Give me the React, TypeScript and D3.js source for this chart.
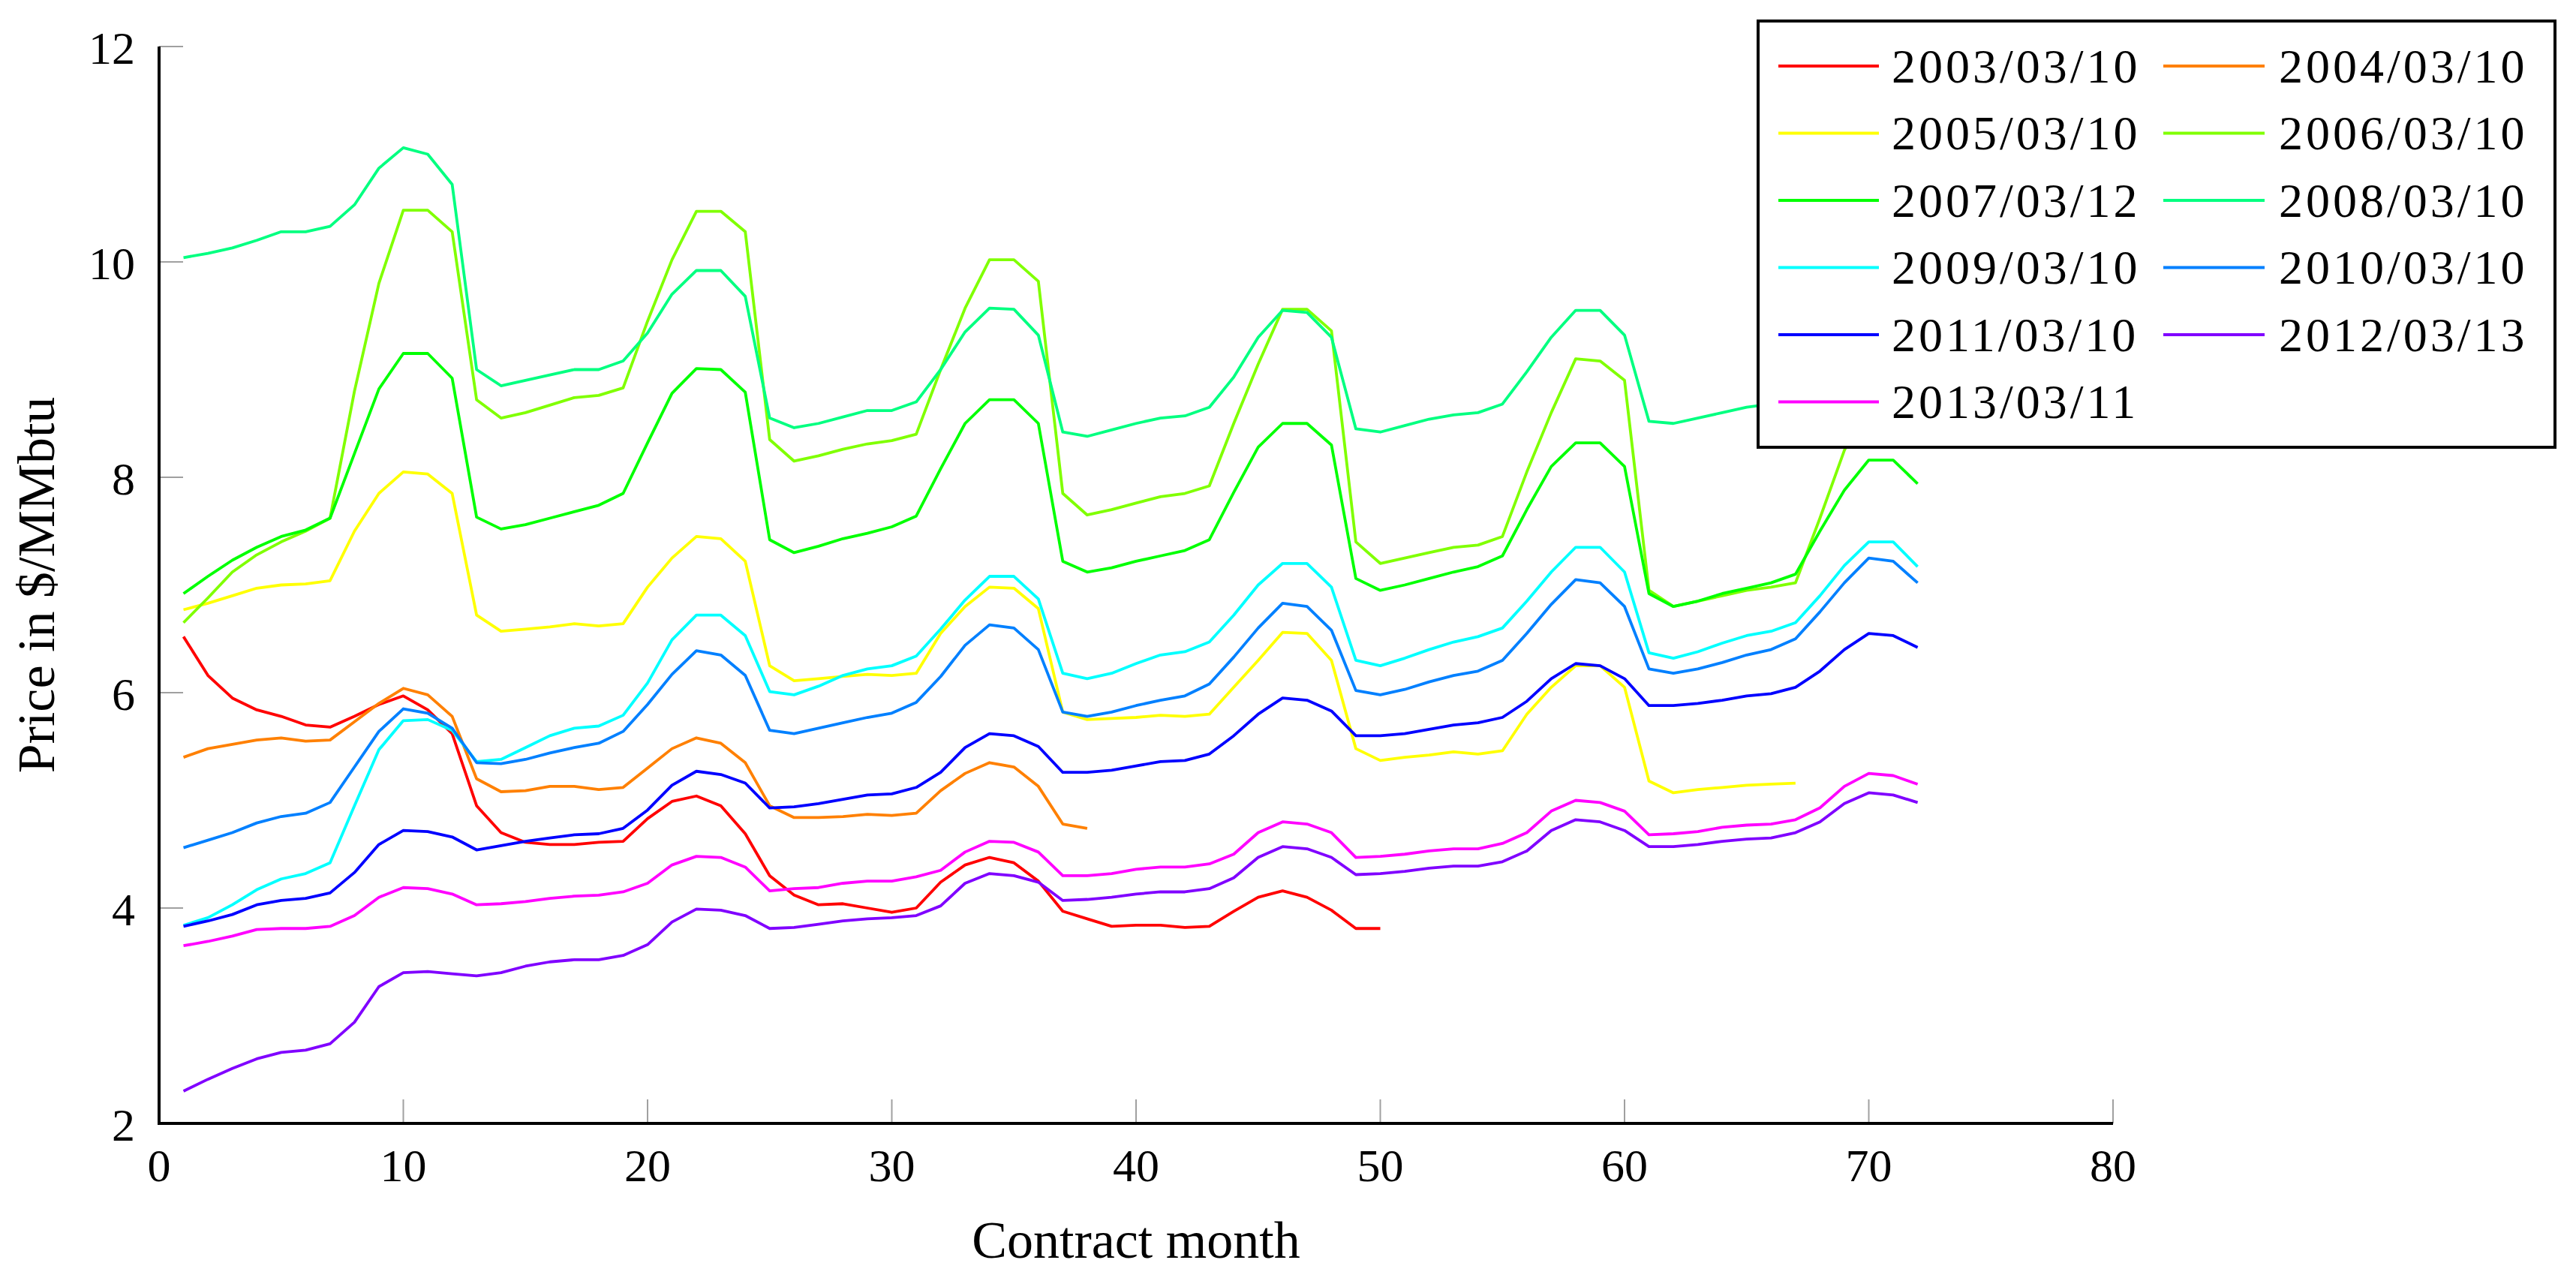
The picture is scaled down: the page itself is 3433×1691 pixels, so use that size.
import * as d3 from "d3";

// futures curves, price in $/MMbtu by contract month (1 = first listed month)
const p2003 = [6.52, 6.16, 5.95, 5.84, 5.78, 5.7, 5.68, 5.78, 5.89, 5.97, 5.84, 5.62, 4.95, 4.7, 4.61, 4.59, 4.59, 4.61, 4.62, 4.83, 4.99, 5.04, 4.95, 4.69, 4.3, 4.12, 4.03, 4.04, 4.0, 3.96, 4.0, 4.24, 4.4, 4.47, 4.42, 4.25, 3.97, 3.9, 3.83, 3.84, 3.84, 3.82, 3.83, 3.97, 4.1, 4.16, 4.1, 3.98, 3.81, 3.81];
const p2004 = [5.4, 5.48, 5.52, 5.56, 5.58, 5.55, 5.56, 5.73, 5.9, 6.04, 5.98, 5.78, 5.2, 5.08, 5.09, 5.13, 5.13, 5.1, 5.12, 5.3, 5.48, 5.58, 5.53, 5.35, 4.95, 4.84, 4.84, 4.85, 4.87, 4.86, 4.88, 5.09, 5.25, 5.35, 5.31, 5.13, 4.78, 4.74];
const p2005 = [6.77, 6.83, 6.9, 6.97, 7.0, 7.01, 7.04, 7.5, 7.85, 8.05, 8.03, 7.85, 6.72, 6.57, 6.59, 6.61, 6.64, 6.62, 6.64, 6.98, 7.25, 7.45, 7.43, 7.22, 6.25, 6.11, 6.13, 6.15, 6.17, 6.16, 6.18, 6.55, 6.8, 6.98, 6.97, 6.78, 5.82, 5.75, 5.76, 5.77, 5.79, 5.78, 5.8, 6.05, 6.3, 6.56, 6.55, 6.3, 5.48, 5.37, 5.4, 5.42, 5.45, 5.43, 5.46, 5.8, 6.05, 6.25, 6.25, 6.05, 5.18, 5.07, 5.1, 5.12, 5.14, 5.15, 5.16];
const p2006 = [6.65, 6.88, 7.12, 7.28, 7.4, 7.5, 7.62, 8.8, 9.8, 10.48, 10.48, 10.28, 8.72, 8.55, 8.6, 8.67, 8.74, 8.76, 8.83, 9.45, 10.02, 10.47, 10.47, 10.28, 8.35, 8.15, 8.2, 8.26, 8.31, 8.34, 8.4, 9.0, 9.57, 10.02, 10.02, 9.82, 7.85, 7.65, 7.7, 7.76, 7.82, 7.85, 7.92, 8.5, 9.05, 9.56, 9.56, 9.36, 7.4, 7.2, 7.25, 7.3, 7.35, 7.37, 7.45, 8.05, 8.6, 9.1, 9.08, 8.9, 6.95, 6.8, 6.85, 6.9, 6.95, 6.98, 7.02, 7.62, 8.25, 8.7, 8.7, 8.5];
const p2007 = [6.92, 7.08, 7.23, 7.35, 7.45, 7.51, 7.62, 8.22, 8.82, 9.15, 9.15, 8.92, 7.63, 7.52, 7.56, 7.62, 7.68, 7.74, 7.85, 8.32, 8.78, 9.01, 9.0, 8.79, 7.42, 7.3, 7.36, 7.43, 7.48, 7.54, 7.64, 8.08, 8.5, 8.72, 8.72, 8.5, 7.22, 7.12, 7.16, 7.22, 7.27, 7.32, 7.42, 7.86, 8.28, 8.5, 8.5, 8.3, 7.06, 6.95, 7.0, 7.06, 7.12, 7.17, 7.27, 7.7, 8.1, 8.32, 8.32, 8.1, 6.92, 6.8, 6.85, 6.92, 6.97, 7.02, 7.1, 7.5, 7.88, 8.16, 8.16, 7.94];
const p2008 = [10.04, 10.08, 10.13, 10.2, 10.28, 10.28, 10.33, 10.53, 10.87, 11.06, 11.0, 10.72, 9.0, 8.85, 8.9, 8.95, 9.0, 9.0, 9.08, 9.34, 9.7, 9.92, 9.92, 9.68, 8.55, 8.46, 8.5, 8.56, 8.62, 8.62, 8.7, 9.0, 9.35, 9.57, 9.56, 9.32, 8.42, 8.38, 8.44, 8.5, 8.55, 8.57, 8.65, 8.93, 9.3, 9.55, 9.53, 9.3, 8.45, 8.42, 8.48, 8.54, 8.58, 8.6, 8.68, 8.98, 9.3, 9.55, 9.55, 9.32, 8.52, 8.5, 8.55, 8.6, 8.65, 8.68, 8.72, 9.02, 9.32, 9.56, 9.56, 9.34];
const p2009 = [3.84, 3.91, 4.03, 4.17, 4.27, 4.32, 4.42, 4.95, 5.47, 5.74, 5.75, 5.65, 5.36, 5.38, 5.49, 5.6, 5.67, 5.69, 5.79, 6.09, 6.49, 6.72, 6.72, 6.53, 6.01, 5.98, 6.06, 6.16, 6.22, 6.25, 6.34, 6.59, 6.86, 7.08, 7.08, 6.87, 6.18, 6.13, 6.18, 6.27, 6.35, 6.38, 6.47, 6.72, 7.0, 7.2, 7.2, 6.98, 6.3, 6.25, 6.32, 6.4, 6.47, 6.52, 6.6, 6.85, 7.12, 7.35, 7.35, 7.12, 6.37, 6.32, 6.38, 6.46, 6.53, 6.57, 6.65, 6.9, 7.18, 7.4, 7.4, 7.17];
const p2010 = [4.56, 4.63, 4.7, 4.79, 4.85, 4.88, 4.98, 5.31, 5.64, 5.85, 5.81, 5.67, 5.35, 5.34, 5.38, 5.44, 5.49, 5.53, 5.64, 5.89, 6.17, 6.39, 6.35, 6.16, 5.65, 5.62, 5.67, 5.72, 5.77, 5.81, 5.91, 6.15, 6.44, 6.63, 6.6, 6.4, 5.82, 5.78, 5.82, 5.88, 5.93, 5.97, 6.08, 6.33, 6.6, 6.83, 6.8, 6.58, 6.02, 5.98, 6.03, 6.1, 6.16, 6.2, 6.3, 6.55, 6.82, 7.05, 7.02, 6.8, 6.22, 6.18, 6.22, 6.28, 6.35, 6.4, 6.5, 6.75, 7.02, 7.25, 7.22, 7.02];
const p2011 = [3.83, 3.88, 3.94, 4.03, 4.07, 4.09, 4.14, 4.33, 4.59, 4.72, 4.71, 4.66, 4.54, 4.58, 4.62, 4.65, 4.68, 4.69, 4.74, 4.91, 5.14, 5.27, 5.24, 5.16, 4.93, 4.94, 4.97, 5.01, 5.05, 5.06, 5.12, 5.26, 5.49, 5.62, 5.6, 5.5, 5.26, 5.26, 5.28, 5.32, 5.36, 5.37, 5.43, 5.6, 5.8, 5.95, 5.93, 5.83, 5.6, 5.6, 5.62, 5.66, 5.7, 5.72, 5.77, 5.92, 6.13, 6.27, 6.25, 6.13, 5.88, 5.88, 5.9, 5.93, 5.97, 5.99, 6.05, 6.2, 6.4, 6.55, 6.53, 6.42];
const p2012 = [2.3, 2.41, 2.51, 2.6, 2.66, 2.68, 2.74, 2.94, 3.27, 3.4, 3.41, 3.39, 3.37, 3.4, 3.46, 3.5, 3.52, 3.52, 3.56, 3.66, 3.87, 3.99, 3.98, 3.93, 3.81, 3.82, 3.85, 3.88, 3.9, 3.91, 3.93, 4.02, 4.23, 4.32, 4.3, 4.24, 4.07, 4.08, 4.1, 4.13, 4.15, 4.15, 4.18, 4.28, 4.47, 4.57, 4.55, 4.47, 4.31, 4.32, 4.34, 4.37, 4.39, 4.39, 4.43, 4.53, 4.72, 4.82, 4.8, 4.72, 4.57, 4.57, 4.59, 4.62, 4.64, 4.65, 4.7, 4.8, 4.97, 5.07, 5.05, 4.98];
const p2013 = [3.65, 3.69, 3.74, 3.8, 3.81, 3.81, 3.83, 3.93, 4.1, 4.19, 4.18, 4.13, 4.03, 4.04, 4.06, 4.09, 4.11, 4.12, 4.15, 4.23, 4.4, 4.48, 4.47, 4.38, 4.16, 4.18, 4.19, 4.23, 4.25, 4.25, 4.29, 4.35, 4.52, 4.62, 4.61, 4.52, 4.3, 4.3, 4.32, 4.36, 4.38, 4.38, 4.41, 4.5, 4.7, 4.8, 4.78, 4.7, 4.47, 4.48, 4.5, 4.53, 4.55, 4.55, 4.6, 4.7, 4.9, 5.0, 4.98, 4.9, 4.68, 4.69, 4.71, 4.75, 4.77, 4.78, 4.82, 4.93, 5.13, 5.25, 5.23, 5.15];

const curveDates = ["2003/03/10", "2004/03/10", "2005/03/10", "2006/03/10", "2007/03/12", "2008/03/10", "2009/03/10", "2010/03/10", "2011/03/10", "2012/03/13", "2013/03/11"];
const curveColors = ["#ff0000", "#ff8000", "#ffff00", "#80ff00", "#00ff00", "#00ff80", "#00ffff", "#0080ff", "#0000ff", "#8000ff", "#ff00ff"];
const curves = [p2003, p2004, p2005, p2006, p2007, p2008, p2009, p2010, p2011, p2012, p2013];

const xTicks = [0, 10, 20, 30, 40, 50, 60, 70, 80];
const yTicks = [2, 4, 6, 8, 10, 12];

const W = 3433;
const H = 1691;
const FONT = "'Liberation Serif', 'DejaVu Serif', serif";

export default function App() {
  const x = d3.scaleLinear().domain([0, 80]).range([212, 2816]);
  const y = d3.scaleLinear().domain([2, 12]).range([1497, 62]);

  const line = d3
    .line<number>()
    .x((_d, i) => x(i + 1))
    .y((d) => y(d));

  // legend box, two columns
  const lg = { x: 2343, y: 28, w: 1062, h: 568, row0: 88, rowH: 89.5 };
  const cols = [
    { l0: 2370, l1: 2504, t: 2521 },
    { l0: 2883, l1: 3018, t: 3037 },
  ];

  return (
    <div style={{ position: "absolute", left: 0, top: 0, background: "#fff" }}>
      <svg width={W} height={H} viewBox={`0 0 ${W} ${H}`} fontFamily={FONT}>
        <rect width={W} height={H} fill="#fff" />

        {/* ticks (inward, gray) */}
        {xTicks.map((t) => (
          <line key={"xt" + t} x1={x(t)} x2={x(t)} y1={y(2)} y2={y(2) - 32} stroke="#a0a0a0" strokeWidth={2} />
        ))}
        {yTicks.map((t) => (
          <line key={"yt" + t} x1={x(0)} x2={x(0) + 32} y1={y(t)} y2={y(t)} stroke="#a0a0a0" strokeWidth={2} />
        ))}

        {curves.map((c, i) => (
          <path key={curveDates[i]} d={line(c) ?? ""} fill="none" stroke={curveColors[i]} strokeWidth={3.8} strokeLinejoin="round" />
        ))}

        {/* axis lines */}
        <line x1={x(0)} x2={x(0)} y1={y(12)} y2={y(2) + 2} stroke="#000" strokeWidth={4} />
        <line x1={x(0) - 2} x2={x(80)} y1={y(2)} y2={y(2)} stroke="#000" strokeWidth={4} />

        {xTicks.map((t) => (
          <text key={"xl" + t} x={x(t)} y={1553} fontSize={62} textAnchor="middle" dominantBaseline="central">
            {t}
          </text>
        ))}
        {yTicks.map((t) => (
          <text key={"yl" + t} x={180} y={y(t) + 2} fontSize={62} textAnchor="end" dominantBaseline="central">
            {t}
          </text>
        ))}

        <text x={1514} y={1652} fontSize={70} textAnchor="middle" dominantBaseline="central">
          Contract month
        </text>
        <text
          transform={`translate(48, ${(y(2) + y(12)) / 2}) rotate(-90)`}
          fontSize={70}
          textAnchor="middle"
          dominantBaseline="central"
        >
          Price in $/MMbtu
        </text>

        <g>
          <rect x={lg.x} y={lg.y} width={lg.w} height={lg.h} fill="#fff" stroke="#000" strokeWidth={4} />
          {curveDates.map((d, i) => {
            const c = cols[i % 2];
            const cy = lg.row0 + Math.floor(i / 2) * lg.rowH;
            return (
              <g key={"lg" + d}>
                <line x1={c.l0} x2={c.l1} y1={cy} y2={cy} stroke={curveColors[i]} strokeWidth={3.8} />
                <text x={c.t} y={cy} fontSize={64} letterSpacing={4} dominantBaseline="central">
                  {d}
                </text>
              </g>
            );
          })}
        </g>
      </svg>
    </div>
  );
}
